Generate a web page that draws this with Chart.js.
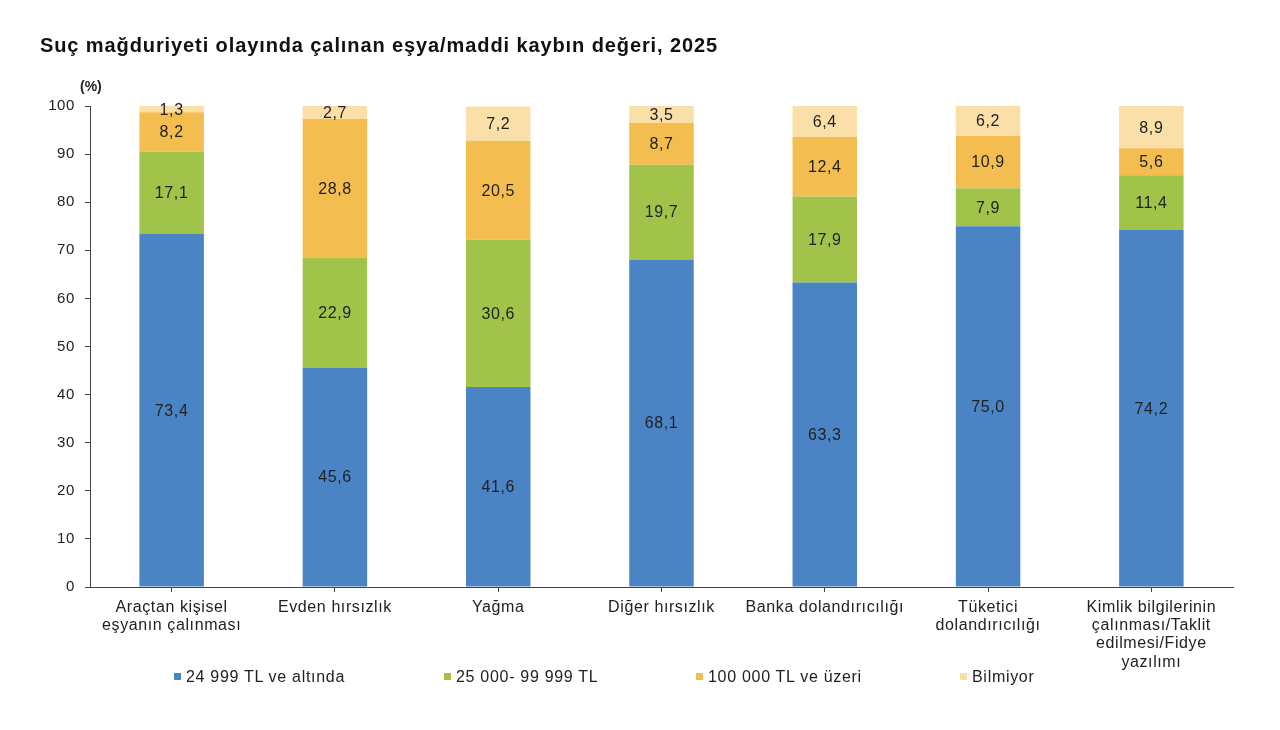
<!DOCTYPE html>
<html lang="tr">
<head>
<meta charset="utf-8">
<script src="https://cdn.jsdelivr.net/npm/chart.js@4/dist/chart.umd.min.js"></script>
<style>
  body{margin:0;background:#fff;font-family:"Liberation Sans",Arial,sans-serif;}
  #wrap{position:relative;width:1280px;height:730px;}
  #chart{position:absolute;left:0;top:0;}
  .title{position:absolute;left:40px;top:34px;font-size:20px;font-weight:bold;color:#111;letter-spacing:0.9px;}
  .unit{position:absolute;left:80px;top:78px;font-size:14px;font-weight:bold;color:#222;}
  .leg{position:absolute;top:668px;font-size:16px;color:#222;white-space:nowrap;letter-spacing:0.7px;}
  .leg i{display:inline-block;width:7px;height:7px;margin-right:5px;vertical-align:2px;}
</style>
</head>
<body>
<div id="wrap">
  <canvas id="chart" width="1280" height="730"></canvas>
  <div class="title">Suç mağduriyeti olayında çalınan eşya/maddi kaybın değeri, 2025</div>
  <div class="unit">(%)</div>
  <div id="legend"></div>
</div>
<script>
// ─── DATA ─────────────────────────────────────────────────────────────────────
const categories = [
  ['Araçtan kişisel','eşyanın çalınması'],
  'Evden hırsızlık',
  'Yağma',
  'Diğer hırsızlık',
  'Banka dolandırıcılığı',
  ['Tüketici','dolandırıcılığı'],
  ['Kimlik bilgilerinin','çalınması/Taklit','edilmesi/Fidye','yazılımı']
];
const seriesNames = ['24 999 TL ve altında','25 000- 99 999 TL','100 000 TL ve üzeri','Bilmiyor'];
const altinda   = [73.4, 45.6, 41.6, 68.1, 63.3, 75.0, 74.2];
const orta      = [17.1, 22.9, 30.6, 19.7, 17.9,  7.9, 11.4];
const uzeri     = [ 8.2, 28.8, 20.5,  8.7, 12.4, 10.9,  5.6];
const bilmiyor  = [ 1.3,  2.7,  7.2,  3.5,  6.4,  6.2,  8.9];
const yTicks    = [0,10,20,30,40,50,60,70,80,90,100];

const cols = ['#4a84c4','#a2c34a','#f3be4f','#fadfa9'];
const legendX = [174, 444, 696, 960];
const FONT = '"Liberation Sans", Arial, sans-serif';

// ─── LEGEND (html) ────────────────────────────────────────────────────────────
document.getElementById('legend').innerHTML = seriesNames.map((n,i)=>
  `<div class="leg" style="left:${legendX[i]}px"><i style="background:${cols[i]}"></i>${n}</div>`
).join('');

// ─── LABELS PLUGIN ────────────────────────────────────────────────────────────
const segLabels = {
  id:'segLabels',
  beforeDraw(chart){ chart.ctx.letterSpacing = '0.6px'; },
  afterDatasetsDraw(chart){
    const ctx = chart.ctx;
    ctx.save();
    ctx.font = '16px ' + FONT;
    ctx.fillStyle = '#222';
    ctx.textAlign = 'center';
    ctx.textBaseline = 'middle';
    chart.data.datasets.forEach((ds,di)=>{
      chart.getDatasetMeta(di).data.forEach((bar,i)=>{
        const top = Math.max(bar.y, chart.chartArea.top);
        ctx.fillText(ds.data[i].toFixed(1).replace('.',','), bar.x, (top+bar.base)/2 + 1);
      });
    });
    ctx.restore();
  }
};

const data = [altinda, orta, uzeri, bilmiyor];
new Chart(document.getElementById('chart'), {
  type:'bar',
  data:{
    labels:categories,
    datasets:data.map((d,i)=>({label:seriesNames[i], data:d, backgroundColor:cols[i], borderWidth:0,
      categoryPercentage:1, barPercentage:0.395}))
  },
  options:{
    responsive:false, animation:false,
    layout:{padding:{top:106,right:47,left:0,bottom:0}},
    plugins:{legend:{display:false}, tooltip:{enabled:false}},
    scales:{
      x:{
        stacked:true,
        afterFit:s=>{s.height=143;},
        grid:{offset:false, drawOnChartArea:false, tickLength:5, tickColor:'#444'},
        border:{color:'#444', width:1},
        ticks:{color:'#222', font:{size:16, family:FONT, lineHeight:1.15}, padding:6, maxRotation:0, autoSkip:false}
      },
      y:{
        stacked:true, min:0, max:100,
        afterFit:s=>{s.width=90;},
        afterBuildTicks:s=>{s.ticks=yTicks.map(v=>({value:v}));},
        grid:{drawOnChartArea:false, tickLength:5, tickColor:'#444'},
        border:{color:'#444', width:1},
        ticks:{color:'#222', font:{size:15, family:FONT}, padding:10}
      }
    }
  },
  plugins:[segLabels]
});
</script>
</body>
</html>
